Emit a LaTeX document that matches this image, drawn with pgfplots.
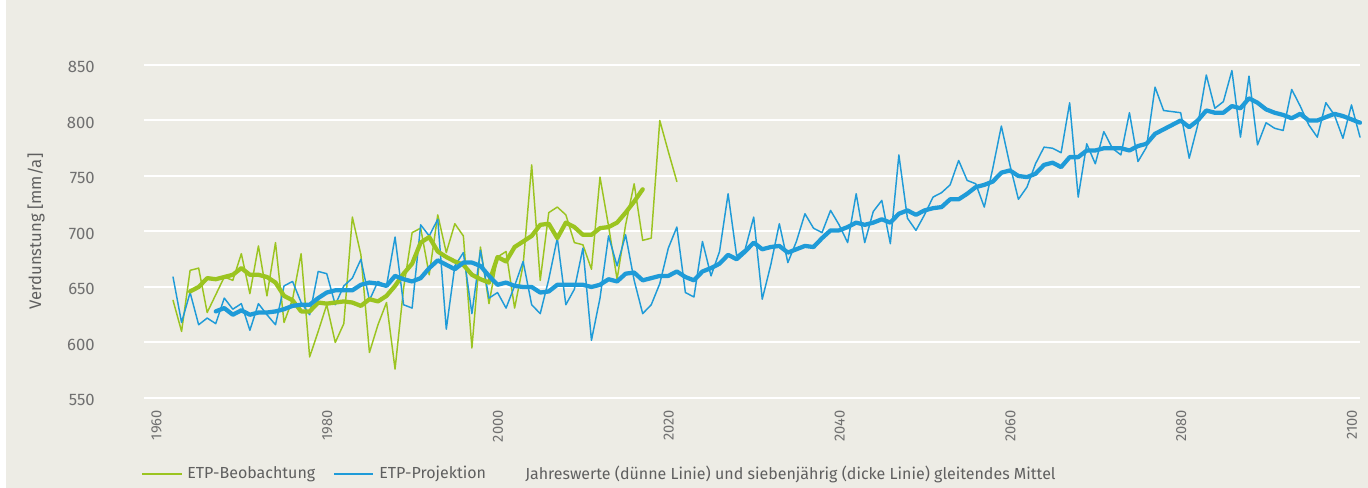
\documentclass[border=0pt]{standalone}
\usepackage{fontspec}
\setmainfont{Fira Sans}
\usepackage{pgfplots}
\pgfplotsset{compat=1.18}
\definecolor{bg}{RGB}{237,236,229}
\definecolor{grn}{RGB}{155,196,32}
\definecolor{blu}{RGB}{31,155,216}
\definecolor{txt}{RGB}{112,112,112}
\definecolor{ltxt}{RGB}{95,95,95}
\begin{document}
\begin{tikzpicture}[x=1pt,y=1pt]
\fill[white] (-108,-67.5) rectangle (918,298.5);
\fill[bg] (-103.5,-67.5) rectangle (918,298.5);
\begin{axis}[
  at={(0,0)}, anchor=south west, scale only axis,
  width=912pt, height=249.75pt,
  xmin=1957.6, xmax=2100, ymin=550, ymax=850,
  clip=false,
  axis line style={draw=none},
  major tick length=0pt,
  tick style={draw=none},
  ytick={550,600,...,850},
  xtick={1960,1980,...,2100},
  ymajorgrids, grid style={white, line width=1.5pt},
  /pgf/number format/assume math mode=true,
  /pgf/number format/1000 sep={},
  tick label style={text=txt},
  xticklabel style={font=\fontsize{11}{13}\selectfont, xshift=-6pt, rotate=90, anchor=east, inner sep=0pt},
  xticklabel shift=9pt,
  yticklabel style={font=\fontsize{12.5}{14}\selectfont, anchor=east, inner sep=0pt, yshift=-1.5pt},
  yticklabel shift=36.75pt,
  ylabel={Verdunstung [mm/a]},
  ylabel style={at={(axis description cs:-0.0888,0.5)}, anchor=center, font=\fontsize{12.5}{14}\selectfont, text=ltxt},
  every axis plot/.append style={line join=round, line cap=round},
]
% green thin (observations)
\addplot[grn, line width=1.1pt] coordinates {
(1961,638)(1962,610)(1963,665)(1964,667)(1965,627)(1966,643)(1967,659)(1968,656)(1969,680)(1970,644)
(1971,687)(1972,642)(1973,690)(1974,618)(1975,639)(1976,680)(1977,587)(1978,610)(1979,634)(1980,600)
(1981,617)(1982,713)(1983,679)(1984,591)(1985,616)(1986,636)(1987,576)(1988,649)(1989,699)(1990,703)
(1991,661)(1992,715)(1993,681)(1994,707)(1995,696)(1996,595)(1997,686)(1998,635)(1999,677)(2000,682)
(2001,631)(2002,670)(2003,760)(2004,656)(2005,717)(2006,722)(2007,715)(2008,690)(2009,688)(2010,666)
(2011,749)(2012,705)(2013,657)(2014,706)(2015,743)(2016,692)(2017,694)(2018,800)(2019,772)(2020,745)
};
% blue thin (projection)
\addplot[blu, line width=1.1pt] coordinates {
(1961,659)(1962,618)(1963,645)(1964,616)(1965,622)(1966,617)(1967,640)(1968,630)(1969,635)(1970,611)
(1971,635)(1972,625)(1973,616)(1974,651)(1975,655)(1976,636)(1977,625)(1978,664)(1979,662)(1980,634)
(1981,651)(1982,658)(1983,675)(1984,638)(1985,655)(1986,651)(1987,695)(1988,634)(1989,631)(1990,706)
(1991,696)(1992,711)(1993,612)(1994,669)(1995,681)(1996,626)(1997,683)(1998,640)(1999,645)(2000,631)
(2001,651)(2002,673)(2003,634)(2004,626)(2005,657)(2006,694)(2007,634)(2008,648)(2009,685)(2010,602)
(2011,640)(2012,696)(2013,669)(2014,697)(2015,656)(2016,626)(2017,634)(2018,653)(2019,685)(2020,704)
(2021,645)(2022,641)(2023,691)(2024,660)(2025,682)(2026,734)(2027,678)(2028,684)(2029,713)(2030,639)
(2031,670)(2032,707)(2033,672)(2034,691)(2035,716)(2036,703)(2037,699)(2038,719)(2039,706)(2040,690)
(2041,734)(2042,690)(2043,718)(2044,728)(2045,689)(2046,769)(2047,712)(2048,701)(2049,715)(2050,731)
(2051,735)(2052,742)(2053,764)(2054,746)(2055,743)(2056,722)(2057,757)(2058,795)(2059,760)(2060,729)
(2061,740)(2062,761)(2063,776)(2064,775)(2065,771)(2066,816)(2067,731)(2068,779)(2069,761)(2070,790)
(2071,775)(2072,769)(2073,807)(2074,763)(2075,776)(2076,830)(2077,809)(2078,808)(2079,807)(2080,766)
(2081,796)(2082,841)(2083,811)(2084,817)(2085,845)(2086,785)(2087,840)(2088,778)(2089,798)(2090,793)
(2091,791)(2092,828)(2093,813)(2094,796)(2095,785)(2096,816)(2097,805)(2098,784)(2099,814)(2100,785)
};
% green thick (7-year moving mean)
\addplot[grn, line width=3.2pt] coordinates {
(1963,646)(1964,650)(1965,658)(1966,657)(1967,659)(1968,661)(1969,667)(1970,661)(1971,661)(1972,659)
(1973,654)(1974,642)(1975,638)(1976,628)(1977,628)(1978,636)(1979,635)(1980,636)(1981,637)(1982,636)
(1983,633)(1984,639)(1985,637)(1986,642)(1987,651)(1988,662)(1989,671)(1990,690)(1991,695)(1992,682)
(1993,677)(1994,673)(1995,670)(1996,661)(1997,657)(1998,654)(1999,677)(2000,673)(2001,686)(2002,691)
(2003,696)(2004,706)(2005,707)(2006,694)(2007,708)(2008,704)(2009,697)(2010,697)(2011,703)(2012,704)
(2013,708)(2014,717)(2015,727)(2016,738)
};
% blue thick (7-year moving mean)
\addplot[blu, line width=3.2pt] coordinates {
(1966,628)(1967,631)(1968,625)(1969,629)(1970,625)(1971,627)(1972,627)(1973,628)(1974,630)(1975,633)
(1976,634)(1977,634)(1978,640)(1979,645)(1980,647)(1981,647)(1982,647)(1983,652)(1984,654)(1985,653)
(1986,651)(1987,660)(1988,657)(1989,655)(1990,658)(1991,667)(1992,674)(1993,670)(1994,666)(1995,672)
(1996,672)(1997,669)(1998,660)(1999,652)(2000,654)(2001,651)(2002,650)(2003,650)(2004,645)(2005,646)
(2006,652)(2007,652)(2008,652)(2009,652)(2010,650)(2011,652)(2012,657)(2013,655)(2014,662)(2015,663)
(2016,656)(2017,658)(2018,660)(2019,660)(2020,664)(2021,659)(2022,656)(2023,664)(2024,667)(2025,671)
(2026,679)(2027,675)(2028,682)(2029,690)(2030,684)(2031,686)(2032,687)(2033,681)(2034,684)(2035,687)
(2036,686)(2037,694)(2038,701)(2039,701)(2040,704)(2041,708)(2042,706)(2043,708)(2044,711)(2045,708)
(2046,716)(2047,719)(2048,715)(2049,719)(2050,721)(2051,722)(2052,729)(2053,729)(2054,734)(2055,740)
(2056,742)(2057,745)(2058,753)(2059,755)(2060,750)(2061,749)(2062,752)(2063,760)(2064,762)(2065,758)
(2066,767)(2067,767)(2068,773)(2069,773)(2070,775)(2071,775)(2072,775)(2073,773)(2074,777)(2075,779)
(2076,788)(2077,792)(2078,796)(2079,800)(2080,794)(2081,800)(2082,809)(2083,807)(2084,807)(2085,813)
(2086,811)(2087,820)(2088,816)(2089,810)(2090,807)(2091,805)(2092,802)(2093,806)(2094,800)(2095,800)
(2096,803)(2097,806)(2098,804)(2099,801)(2100,798)
};
\end{axis}
% legend
\draw[grn, line width=1.8pt] (-1.5,-57) -- (28.5,-57);
\node[anchor=west, inner sep=0pt, text=ltxt, font=\fontsize{12}{14}\selectfont] at (32.25,-57) {ETP-Beobachtung};
\draw[blu, line width=1.8pt] (142.5,-57) -- (171.75,-57);
\node[anchor=west, inner sep=0pt, text=ltxt, font=\fontsize{12}{14}\selectfont] at (176.25,-57) {ETP-Projektion};
\node[anchor=west, inner sep=0pt, text=ltxt, font=\fontsize{12}{14}\selectfont] at (285.75,-57) {Jahreswerte (dünne Linie) und siebenjährig (dicke Linie) gleitendes Mittel};
\pgfresetboundingbox
\path[use as bounding box] (-108,-67.5) rectangle (918,298.5);
\end{tikzpicture}
\end{document}
